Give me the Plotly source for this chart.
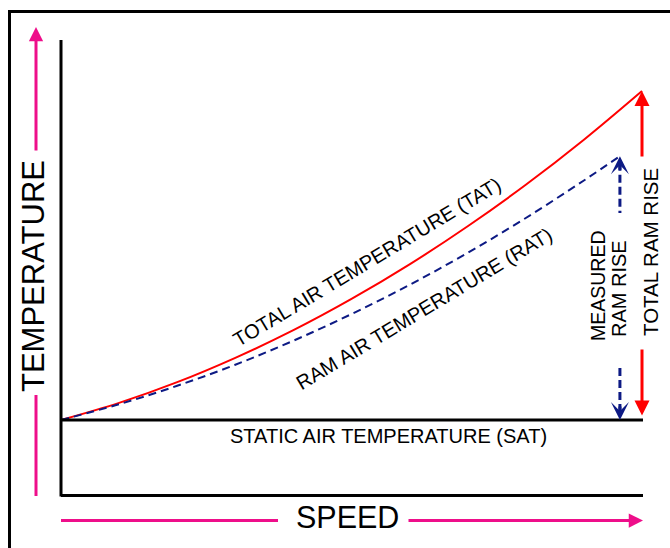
import plotly.graph_objects as go

# ---------------- data ----------------
speed = [0, 10, 20, 30, 40, 50, 60, 70, 80, 90, 100]
tat = [0, 5.2, 11.5, 18.9, 27.3, 36.8, 47.3, 58.9, 71.5, 85.2, 100]
rat_speed = [0, 10, 20, 30, 40, 50, 60, 70, 80, 90, 96.2]
rat = [0, 4.8, 10.4, 16.8, 24.1, 32.2, 41.1, 50.8, 61.4, 72.8, 80.2]
sat = 0

label_tat = "TOTAL AIR TEMPERATURE (TAT)"
label_rat = "RAM AIR TEMPERATURE (RAT)"
label_sat = "STATIC AIR TEMPERATURE (SAT)"
label_x = "SPEED"
label_y = "TEMPERATURE"
label_total = "TOTAL RAM RISE"
label_meas = ["MEASURED", "RAM RISE"]

# ---------------- layout calibration ----------------
W, H = 670, 548
X0_PX, XS = 61, 5.81    # pixel of speed 0, pixels per speed unit
Y0_PX, YS = 420, 3.29   # pixel of temperature 0, pixels per temp unit


def sx(px):
    return (px - X0_PX) / XS


def ty(py):
    return (Y0_PX - py) / YS


RED = "#FF0000"
BLUE = "#0D1A84"
PINK = "#EE0E8A"
FONT = "Liberation Sans, Arial, sans-serif"

fig = go.Figure()

fig.add_trace(go.Scatter(x=speed, y=tat, mode="lines",
                         line=dict(color=RED, width=2, shape="spline"),
                         hoverinfo="skip", showlegend=False))
fig.add_trace(go.Scatter(x=rat_speed, y=rat, mode="lines",
                         line=dict(color=BLUE, width=2, dash="8px,5px", shape="spline"),
                         hoverinfo="skip", showlegend=False))

shapes = []
# outer frame
shapes.append(dict(type="rect", xref="x", yref="y", x0=sx(9.5), y0=ty(11.5),
                   x1=sx(720), y1=ty(620), line=dict(color="black", width=3)))
# axes
shapes.append(dict(type="line", x0=speed[0], x1=speed[0], y0=ty(496.5), y1=ty(40),
                   line=dict(color="black", width=3)))
shapes.append(dict(type="line", x0=speed[0], x1=sx(643), y0=ty(495.5), y1=ty(495.5),
                   line=dict(color="black", width=3)))
# SAT line
shapes.append(dict(type="line", x0=speed[0], x1=sx(643), y0=sat, y1=sat,
                   line=dict(color="black", width=3)))
# blue dashed segments of the measured ram rise arrow
shapes.append(dict(type="line", x0=rat_speed[-1], x1=rat_speed[-1], y0=rat[-1] - 2, y1=ty(213),
                   line=dict(color=BLUE, width=3, dash="8px,4px")))
shapes.append(dict(type="line", x0=rat_speed[-1], x1=rat_speed[-1], y0=ty(368), y1=sat + 2,
                   line=dict(color=BLUE, width=3, dash="8px,4px")))
# pink lines
shapes.append(dict(type="line", x0=sx(36), x1=sx(36), y0=ty(496), y1=ty(395),
                   line=dict(color=PINK, width=3)))
shapes.append(dict(type="line", x0=speed[0], x1=sx(278), y0=ty(520.5), y1=ty(520.5),
                   line=dict(color=PINK, width=3)))

ann = []


def arrow(x, y, axv, ayv, color, head=2, size=1.0, width=3, ref=True):
    d = dict(x=x, y=y, ax=axv, ay=ayv, text="", showarrow=True, arrowhead=head,
             arrowsize=size, arrowwidth=width, arrowcolor=color, standoff=0)
    if ref:
        d.update(axref="x", ayref="y")
    return d


# red arrows
ann.append(arrow(speed[-1], tat[-1], speed[-1], ty(158), RED))
ann.append(arrow(speed[-1], ty(415.5), speed[-1], ty(348), RED))
# blue arrow heads (barbed)
ann.append(arrow(rat_speed[-1], rat[-1], 0, 15, BLUE, head=3, size=1.0, ref=False))
ann.append(arrow(rat_speed[-1], sat, 0, -15, BLUE, head=3, size=1.0, ref=False))
# pink arrows
ann.append(arrow(sx(36), ty(27), sx(36), ty(152), PINK, size=0.95))
ann.append(arrow(sx(643), ty(520.5), sx(407), ty(520.5), PINK, size=0.95))


def txt(s, x, y, size, angle=0):
    return dict(text=s, x=x, y=y, showarrow=False, textangle=angle,
                xanchor="center", yanchor="middle",
                font=dict(family=FONT, size=size, color="black"))


ann.append(txt(label_y, sx(33), ty(276), 31, -90))
ann.append(txt(label_x, sx(347.5), ty(516.5), 30.5))
ann.append(txt(label_sat, sx(388), ty(435.5), 20))
ann.append(txt(label_tat, sx(367), ty(262), 20, -31))
ann.append(txt(label_rat, sx(423.5), ty(309), 20, -31))
ann.append(txt(label_total, sx(650), ty(252), 20.5, -90))
ann.append(txt(label_meas[0], sx(598), ty(286), 19.5, -90))
ann.append(txt(label_meas[1], sx(619), ty(289), 20, -90))

fig.update_layout(
    width=W, height=H,
    margin=dict(l=0, r=0, t=0, b=0),
    paper_bgcolor="white", plot_bgcolor="white",
    xaxis=dict(range=[sx(0), sx(W)], visible=False, fixedrange=True),
    yaxis=dict(range=[ty(H), ty(0)], visible=False, fixedrange=True),
    shapes=shapes, annotations=ann, showlegend=False,
)

fig.write_html("out.html", config={"displayModeBar": False},
               post_script="document.body.style.margin='0';document.body.style.overflow='hidden';")
